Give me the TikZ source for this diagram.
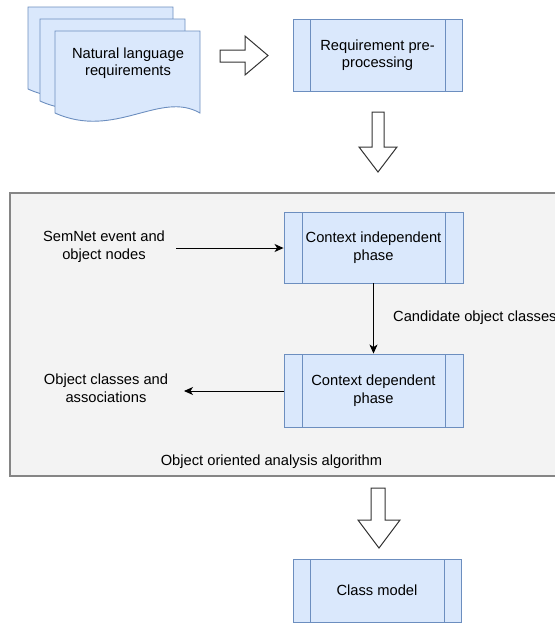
\documentclass[tikz,border=0pt]{standalone}
\usepackage{fontspec}
\setmainfont{Liberation Sans}
\usetikzlibrary{arrows.meta}
\definecolor{boxfill}{HTML}{DAE8FC}
\definecolor{boxline}{HTML}{6C8EBF}
\definecolor{groupfill}{HTML}{F3F3F3}
\definecolor{groupline}{HTML}{858585}
\definecolor{bigarrow}{HTML}{333333}
\tikzset{
  txt/.style={font=\fontsize{14.7}{17.5}\selectfont, align=center, text=black},
  procbox/.style={draw=boxline, fill=boxfill, line width=0.9pt, rectangle,
    minimum width=179, minimum height=72, inner sep=0pt, txt,
    path picture={
      \draw[boxline, line width=0.9pt]
        ([xshift=#1]path picture bounding box.north west) -- ([xshift=#1]path picture bounding box.south west)
        ([xshift=-#1]path picture bounding box.north east) -- ([xshift=-#1]path picture bounding box.south east);
    }},
  procbox/.default=18pt,
  sheet/.style={draw=boxline, fill=boxfill, line width=0.9pt},
  blockarrow/.style={draw=bigarrow, fill=white, line width=1pt, line join=miter},
  flow/.style={draw=black, line width=0.9pt, -{Stealth[length=9pt, width=8pt, inset=2.5pt]}},
}
\begin{document}
\begin{tikzpicture}[x=1pt, y=-1pt]
\useasboundingbox (0,0) rectangle (555,633);
\clip (0,0) rectangle (555,633);

% stacked documents
\draw[sheet] (28,7) -- (173,7) -- (173,89) .. controls (133,66) and (88,116) .. (28,89) -- cycle;
\draw[sheet] (40,19) -- (185,19) -- (185,101) .. controls (145,78) and (100,128) .. (40,101) -- cycle;
\draw[sheet] (55,31) -- (200,31) -- (200,113) .. controls (160,90) and (115,140) .. (55,113) -- cycle;
\node[txt] (nlr) at (128,63) {Natural language\\requirements};

% block arrow to the right
\draw[blockarrow] (220,50) -- (245,50) -- (245,36) -- (268,55.5) -- (245,75) -- (245,62) -- (220,62) -- cycle;

\node[procbox=17pt, minimum width=169] (pre) at (377.5,55) {Requirement pre-\\processing};

% block arrow down
\draw[blockarrow] (372,112) -- (384,112) -- (384,147) -- (397,147) -- (378,172) -- (359,147) -- (372,147) -- cycle;

% analysis algorithm group
\draw[fill=groupfill, draw=groupline, line width=1.1pt] (10,193) rectangle (570,476);
\node[txt] (grp) at (271.5,462) {Object oriented analysis algorithm};

\node[procbox, minimum height=71] (ci) at (373.5,247.5) {Context independent\\phase};
\node[procbox, minimum height=73] (cd) at (373.5,390.5) {Context dependent\\phase};

\node[txt] (sem) at (104,246.5) {SemNet event and\\object nodes};
\node[txt] (occ) at (106,388) {Object classes and\\associations};
\node[txt, anchor=west, inner sep=0pt] (cand) at (393,318) {Candidate object classes};

\coordinate (semend) at (176,248);
\coordinate (occend) at (184,391);
\draw[flow] (semend) -- (ci.west |- semend);
\draw[flow] (ci.south) -- (cd.north);
\draw[flow] (cd.west |- occend) -- (occend);

% block arrow down
\draw[blockarrow] (371,488) -- (385,488) -- (385,520) -- (400,520) -- (379,548) -- (358,520) -- (371,520) -- cycle;

\node[procbox=17pt, minimum width=168, minimum height=63] (cm) at (377,590.5) {Class model};
\end{tikzpicture}
\end{document}
